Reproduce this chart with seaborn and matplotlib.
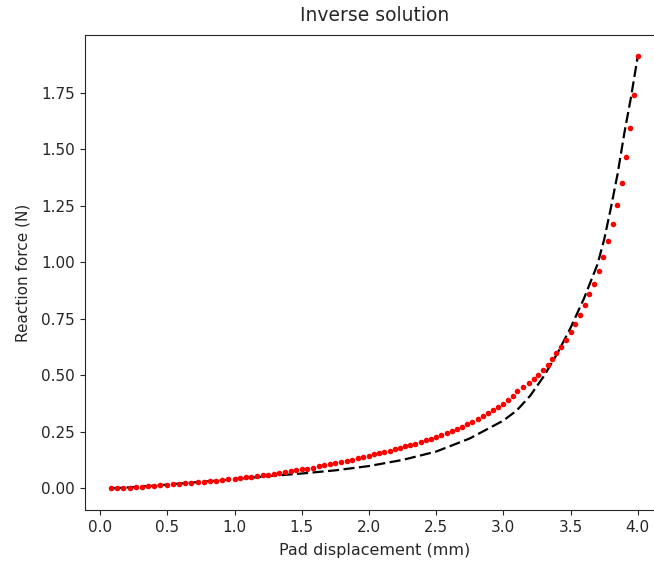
import numpy as np
import pandas as pd
import seaborn as sns
import matplotlib
matplotlib.use('Agg')
import matplotlib.pyplot as plt

disp = [0.080, 0.126, 0.172, 0.218, 0.264, 0.310, 0.356, 0.402, 0.448, 0.494,
        0.540, 0.586, 0.632, 0.678, 0.724, 0.770, 0.816, 0.862, 0.908, 0.954,
        1.000, 1.042, 1.083, 1.125, 1.167, 1.208, 1.250, 1.292, 1.333, 1.375,
        1.417, 1.458, 1.500, 1.542, 1.583, 1.625, 1.667, 1.708, 1.750, 1.792,
        1.833, 1.875, 1.917, 1.958, 2.000, 2.038, 2.077, 2.115, 2.154, 2.192,
        2.231, 2.269, 2.308, 2.346, 2.385, 2.423, 2.462, 2.500, 2.538, 2.577,
        2.615, 2.654, 2.692, 2.731, 2.769, 2.808, 2.846, 2.885, 2.923, 2.962,
        3.000, 3.035, 3.070, 3.100, 3.145, 3.190, 3.225, 3.260, 3.295, 3.330,
        3.360, 3.395, 3.430, 3.465, 3.500, 3.535, 3.570, 3.605, 3.640, 3.675,
        3.710, 3.745, 3.780, 3.815, 3.845, 3.880, 3.910, 3.945, 3.975, 4.000]
force = [0.0000, 0.0009, 0.0022, 0.0037, 0.0053, 0.0071, 0.0090, 0.0110, 0.0131, 0.0152,
         0.0175, 0.0198, 0.0221, 0.0246, 0.0270, 0.0296, 0.0322, 0.0348, 0.0375, 0.0402,
         0.0430, 0.0456, 0.0484, 0.0513, 0.0543, 0.0575, 0.0608, 0.0643, 0.0679, 0.0717,
         0.0755, 0.0796, 0.0838, 0.0881, 0.0925, 0.0972, 0.1019, 0.1068, 0.1118, 0.1170,
         0.1223, 0.1278, 0.1334, 0.1391, 0.1450, 0.1505, 0.1561, 0.1617, 0.1674, 0.1732,
         0.1792, 0.1854, 0.1918, 0.1984, 0.2053, 0.2125, 0.2200, 0.2279, 0.2361, 0.2448,
         0.2539, 0.2634, 0.2734, 0.2840, 0.2952, 0.3068, 0.3192, 0.3321, 0.3457, 0.3600,
         0.3750, 0.3920, 0.4100, 0.4300, 0.4480, 0.4650, 0.4840, 0.5030, 0.5240, 0.5470,
         0.5720, 0.5980, 0.6270, 0.6580, 0.6920, 0.7280, 0.7660, 0.8100, 0.8580, 0.9050,
         0.9620, 1.0250, 1.0930, 1.1700, 1.2550, 1.3520, 1.4650, 1.5920, 1.7400, 1.9100]

# inverse solution (black dashed curve)
fit_disp = [0.08, 0.25, 0.50, 0.75, 1.00, 1.25, 1.50, 1.75, 2.00, 2.25, 2.50, 2.75,
            3.00, 3.10, 3.20, 3.30, 3.40, 3.50, 3.60, 3.70, 3.75, 3.80, 3.85, 3.90,
            3.95, 4.00]
fit_force = [0.000, 0.006, 0.017, 0.029, 0.041, 0.054, 0.066, 0.080, 0.099, 0.126,
             0.163, 0.221, 0.300, 0.345, 0.410, 0.495, 0.595, 0.710, 0.840, 0.990,
             1.100, 1.240, 1.390, 1.570, 1.730, 1.910]

df = pd.DataFrame({'disp': disp, 'force': force})
df_fit = pd.DataFrame({'disp': fit_disp, 'force': fit_force})

sns.set_style('ticks')
plt.rcParams['font.family'] = ['DejaVu Sans']

fig = plt.figure(figsize=(6.54, 5.65), dpi=100)
ax = fig.add_axes([0.1294, 0.0973, 0.886, 0.841])

sns.lineplot(x='disp', y='force', data=df_fit, ax=ax, color='black',
             linewidth=1.6, dashes=False, sort=False)
ax.lines[0].set_dashes((5, 2))
sns.scatterplot(x='disp', y='force', data=df, ax=ax, color='red', s=16,
                linewidth=0, zorder=3)

# the right frame edge falls outside the cropped reference
ax.spines['right'].set_visible(False)

ax.set_title('Inverse solution', fontsize=13.5, pad=10)
ax.set_xlabel('Pad displacement (mm)', fontsize=11.5, labelpad=6)
ax.set_ylabel('Reaction force (N)', fontsize=11, labelpad=8)
ax.tick_params(labelsize=11)
ax.set_xticks(np.arange(0, 4.01, 0.5))
ax.set_yticks(np.arange(0, 1.76, 0.25))

plt.savefig('out.png', dpi=100)
